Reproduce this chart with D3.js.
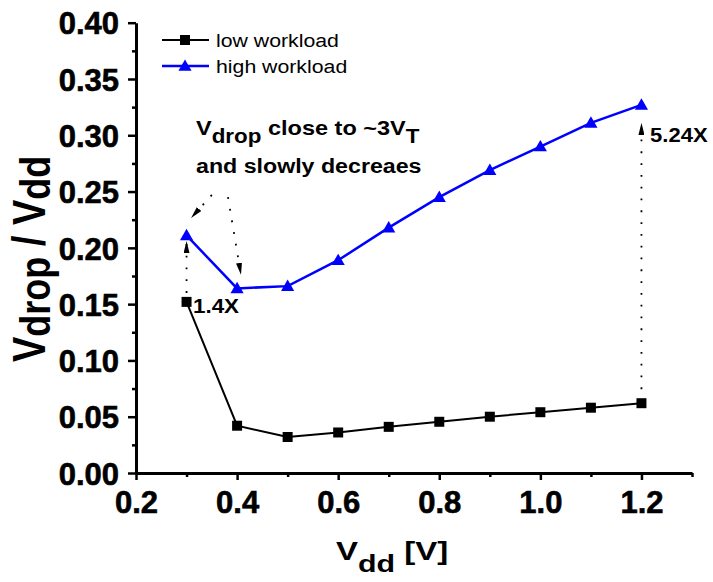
<!DOCTYPE html>
<html>
<head>
<meta charset="utf-8">
<script src="https://cdn.jsdelivr.net/npm/d3@7"></script>
<style>
  body { margin: 0; background: #fff; }
  svg { display: block; }
  text { font-family: "Liberation Sans", Arial, sans-serif; }
</style>
</head>
<body>
<svg id="chart" width="713" height="582"></svg>
<script>
// data
let vdd = [0.3, 0.4, 0.5, 0.6, 0.7, 0.8, 0.9, 1.0, 1.1, 1.2];
let lowWorkload  = [0.152, 0.042, 0.032, 0.036, 0.041, 0.0455, 0.050, 0.054, 0.058, 0.062];
let highWorkload = [0.211, 0.164, 0.166, 0.189, 0.218, 0.245, 0.269, 0.290, 0.311, 0.327];
let xTicks = [0.2, 0.4, 0.6, 0.8, 1.0, 1.2];
let yTicks = [0.00, 0.05, 0.10, 0.15, 0.20, 0.25, 0.30, 0.35, 0.40];

let svg = d3.select("#chart");

let x = d3.scaleLinear().domain([0.2, 1.3]).range([136, 692]);
let y = d3.scaleLinear().domain([0, 0.4]).range([473, 22.7]);

// y axis (major + minor)
svg.append("g")
  .attr("transform", "translate(136,0)")
  .call(d3.axisLeft(y).tickValues(yTicks.map(d => d + 0.025).filter(d => d < 0.4)).tickSize(4).tickFormat(""))
  .call(g => g.select(".domain").remove());
let yAxis = svg.append("g")
  .attr("transform", "translate(136,0)")
  .call(d3.axisLeft(y).tickValues(yTicks).tickSize(8).tickSizeOuter(0).tickPadding(9).tickFormat(d3.format(".2f")));

// x axis (major + minor)
svg.append("g")
  .attr("transform", "translate(0,473)")
  .call(d3.axisBottom(x).tickValues([0.3, 0.5, 0.7, 0.9, 1.1, 1.3]).tickSize(4).tickFormat(""))
  .call(g => g.select(".domain").remove());
let xAxis = svg.append("g")
  .attr("transform", "translate(0,473)")
  .call(d3.axisBottom(x).tickValues(xTicks).tickSize(7).tickSizeOuter(0).tickPadding(9).tickFormat(d3.format(".1f")));

svg.selectAll(".tick line").attr("stroke", "#000").attr("stroke-width", 2.5);
svg.selectAll(".domain").attr("stroke", "#000").attr("stroke-width", 3);
svg.selectAll(".tick text")
  .attr("fill", "#000")
  .attr("stroke", "#000")
  .attr("stroke-width", 0.6)
  .style("font-size", "31px")
  .style("font-weight", "bold");
yAxis.selectAll(".tick text").attr("dy", "0.36em");
xAxis.selectAll(".tick text").attr("dy", "0.78em");

// lines
let lowPts = vdd.map((v, i) => [v, lowWorkload[i]]);
let highPts = vdd.map((v, i) => [v, highWorkload[i]]);
let line = d3.line().x(d => x(d[0])).y(d => y(d[1]));

svg.append("path").datum(lowPts)
  .attr("d", line).attr("fill", "none").attr("stroke", "#000").attr("stroke-width", 2);
svg.append("path").datum(highPts)
  .attr("d", line).attr("fill", "none").attr("stroke", "#0000ff").attr("stroke-width", 2.5);

let square = d3.symbol().type(d3.symbolSquare).size(100);
let triangle = d3.symbol().type(d3.symbolTriangle).size(75);

svg.selectAll(".sq").data(lowPts).join("path")
  .attr("class", "sq")
  .attr("d", square)
  .attr("transform", d => "translate(" + x(d[0]) + "," + y(d[1]) + ")")
  .attr("fill", "#000");
svg.selectAll(".tri").data(highPts).join("path")
  .attr("class", "tri")
  .attr("d", triangle)
  .attr("transform", d => "translate(" + x(d[0]) + "," + (y(d[1]) + 1) + ")")
  .attr("fill", "#0000ff");

// legend
let legend = [
  {label: "low workload", color: "#000", sym: square, w: 2},
  {label: "high workload", color: "#0000ff", sym: triangle, w: 2.5}
];
legend.forEach((d, i) => {
  let ly = 40 + i * 26;
  svg.append("line").attr("x1", 162).attr("x2", 209).attr("y1", ly).attr("y2", ly)
    .attr("stroke", d.color).attr("stroke-width", d.w);
  svg.append("path").attr("d", d.sym).attr("transform", "translate(185," + (ly + (i ? 1 : 0)) + ")").attr("fill", d.color);
  svg.append("text")
    .attr("transform", "translate(216," + (ly + 7) + ") scale(1.12,1)")
    .style("font-size", "19px")
    .text(d.label);
});

// arrows
svg.append("defs").append("marker")
  .attr("id", "head")
  .attr("viewBox", "0 0 12 6")
  .attr("refX", 12).attr("refY", 3)
  .attr("markerWidth", 12).attr("markerHeight", 6)
  .attr("markerUnits", "userSpaceOnUse")
  .attr("orient", "auto")
  .append("path").attr("d", "M0,0 L12,3 L0,6 Z").attr("fill", "#000");

let arrows = [
  [[0.3, 0.160], [0.3, 0.206]],
  [[1.2, 0.0745], [1.2, 0.311]],
  [[0.350, 0.247], [0.309, 0.2265]],
  [[0.382, 0.245], [0.4077, 0.176]]
];
arrows.forEach(a => {
  svg.append("line")
    .attr("x1", x(a[0][0])).attr("y1", y(a[0][1]))
    .attr("x2", x(a[1][0])).attr("y2", y(a[1][1]))
    .attr("stroke", "#000").attr("stroke-width", 1.8)
    .attr("stroke-dasharray", "1.8,10")
    .attr("marker-end", "url(#head)");
});

function label(px, py, parts, size, sx) {
  let t = svg.append("text")
    .attr("transform", "translate(" + px + "," + py + ") scale(" + sx + ",1)")
    .style("font-weight", "bold")
    .style("font-size", size + "px");
  parts.forEach(p => {
    t.append("tspan")
      .attr("dy", p.dy || 0)
      .style("font-size", (p.size || size) + "px")
      .text(p.t);
  });
  return t;
}

label(193, 313, [{t: "1.4X"}], 20, 1.12);
label(650, 142, [{t: "5.24X"}], 21, 1.05);
label(196, 135, [{t: "V"}, {t: "drop", dy: 8, size: 20}, {t: " close to ~3V", dy: -8}, {t: "T", dy: 8, size: 20}], 21, 1.12);
label(196, 173, [{t: "and slowly decreaes"}], 20, 1.16);

// axis titles
label(336, 560, [{t: "V"}, {t: "dd", dy: 12, size: 23}, {t: " [V]", dy: -12}], 25, 1.32);

let yt = svg.append("text")
  .attr("transform", "translate(45,362) rotate(-90) scale(1,1.2)")
  .style("font-weight", "bold")
  .style("font-size", "38px");
yt.append("tspan").text("V");
yt.append("tspan").attr("dy", 4).style("font-size", "36px").text("drop");
yt.append("tspan").attr("dy", -4).text(" / V");
yt.append("tspan").attr("dy", 4).style("font-size", "36px").text("dd");
</script>
</body>
</html>
